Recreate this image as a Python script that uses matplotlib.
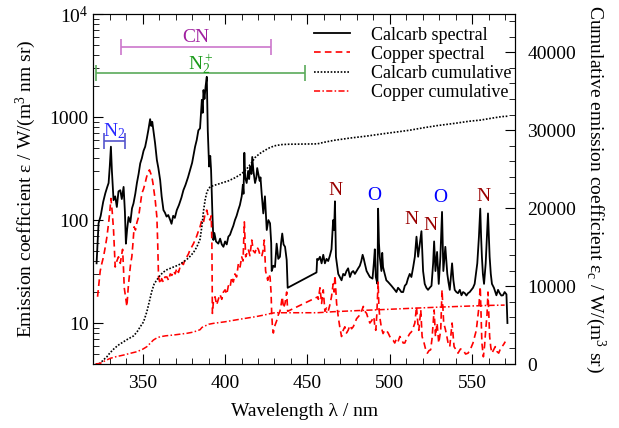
import numpy as np
import matplotlib
matplotlib.use('Agg')
import matplotlib.pyplot as plt
from matplotlib.ticker import MultipleLocator, FixedLocator, LogLocator, NullFormatter

plt.rcParams['font.family'] = ['Liberation Serif', 'DejaVu Serif']
plt.rcParams['mathtext.fontset'] = 'custom'
plt.rcParams['mathtext.rm'] = 'Liberation Serif'
plt.rcParams['mathtext.it'] = 'Liberation Serif:italic'

# Calcarb spectral emission coefficient (W/(m3 nm sr))
calcarb_wl = [322.0, 323.2, 324.5, 326.0, 327.3, 328.5, 329.3, 330.0, 330.7, 331.3, 332.3, 333.3, 334.3, 335.3,
              336.4, 337.3, 338.4, 339.2, 339.8, 340.5, 341.4, 342.5, 343.5, 344.4, 345.5, 346.5, 347.5, 348.5,
              349.5, 350.5, 351.5, 352.5, 353.5, 354.5, 355.2, 355.8, 356.5, 357.5, 358.6, 359.5, 360.6, 361.5,
              362.6, 363.5, 364.5, 365.5, 366.7, 367.5, 368.5, 369.5, 370.7, 372.0, 373.5, 374.7, 376.0, 377.5,
              378.8, 380.0, 381.8, 382.8, 383.8, 384.8, 385.9, 386.4, 386.9, 387.5, 388.2, 388.9, 389.5, 390.3,
              391.0, 391.5, 392.3, 392.9, 393.5, 394.5, 395.9, 397.0, 398.0, 399.0, 400.0, 401.0, 402.0, 403.0,
              404.0, 405.0, 406.0, 407.0, 408.0, 409.0, 410.1, 410.8, 411.2, 411.7, 412.2, 413.1, 414.0, 414.6,
              415.2, 416.0, 416.5, 417.2, 418.2, 419.0, 419.5, 420.2, 421.0, 421.5, 422.2, 423.2, 424.2, 425.3,
              426.3, 427.3, 428.0, 428.3, 429.3, 430.3, 431.3, 432.3, 433.3, 434.0, 434.7, 435.5, 436.4, 437.4,
              438.0, 455.5, 455.9, 456.6, 457.6, 458.6, 459.6, 460.6, 461.6, 462.6, 463.6, 464.6, 465.6, 466.2,
              466.7, 467.3, 468.0, 468.7, 469.7, 470.7, 471.7, 472.7, 473.7, 474.7, 475.8, 476.8, 477.8, 478.8,
              479.8, 480.8, 481.8, 482.7, 483.5, 484.2, 484.8, 485.9, 486.9, 487.9, 489.5, 490.3, 490.9, 491.5,
              492.5, 492.9, 493.4, 493.9, 494.9, 495.4, 495.9, 496.9, 497.9, 499.0, 500.0, 501.0, 502.0, 503.0,
              504.0, 505.0, 506.1, 507.0, 508.1, 509.1, 510.1, 511.0, 512.1, 513.1, 514.2, 515.2, 516.2, 517.2,
              518.2, 519.2, 520.2, 521.2, 522.2, 523.2, 524.2, 525.3, 526.3, 526.9, 527.7, 528.7, 529.7, 530.7,
              531.7, 532.5, 533.7, 534.9, 535.6, 536.4, 537.8, 538.6, 539.4, 540.4, 541.4, 542.5, 543.5, 544.5,
              545.5, 546.5, 547.5, 548.5, 549.5, 550.5, 551.5, 552.3, 553.1, 554.1, 554.9, 555.4, 555.9, 556.5,
              557.2, 558.2, 559.0, 559.6, 560.1, 560.6, 561.3, 562.0, 563.2, 564.7, 565.7, 566.7, 567.7, 568.7,
              569.7, 570.8, 571.4]
calcarb_eps = [38, 93, 110, 150, 182, 210, 229, 330, 516, 300, 156, 170, 134, 190,
               195, 160, 210, 120, 59, 80, 107, 95, 130, 145, 180, 230, 280, 355,
               400, 470, 516, 620, 760, 955, 820, 900, 744, 560, 383, 320, 244, 170,
               125, 118, 108, 112, 100, 92, 110, 105, 125, 140, 165, 195, 220, 260,
               307, 360, 516, 600, 744, 777, 1470, 1100, 1830, 1500, 2000, 2460, 744, 331,
               420, 307, 116, 64, 75, 62, 59, 66, 58, 55, 62, 58, 69, 72,
               80, 88, 100, 110, 125, 140, 170, 220, 180, 450, 260, 229, 300, 250,
               331, 280, 410, 300, 229, 260, 320, 280, 240, 260, 182, 116, 170, 80,
               100, 93, 60, 32, 36, 35, 59, 42, 44, 60, 74, 58, 55, 41,
               22, 31, 42, 41, 44, 38, 46, 38, 42, 40, 45, 52, 100, 80,
               152, 44, 36, 30, 28, 26, 30, 29, 32, 34, 28, 31, 32, 30,
               32, 34, 36, 40, 46, 42, 38, 32, 30, 28, 27, 38, 52, 28,
               24, 129, 60, 44, 32, 48, 35, 30, 26, 25, 24, 23, 22, 21,
               20, 22, 21, 20, 20, 23, 24, 27, 30, 28, 35, 44, 69, 44,
               59, 78, 32, 24, 22, 21, 22, 23, 38, 62, 32, 49, 24, 44,
               120, 32, 55, 30, 25, 21, 38, 26, 21, 20, 19.5, 21, 18.6, 20,
               19.5, 18.5, 19.5, 20, 21, 22, 24, 30, 38, 69, 129, 70, 44, 30,
               24, 38, 70, 116, 70, 44, 30, 24, 22, 18.6, 21, 19.5, 18.5, 18.6,
               20, 19, 10]

# Copper spectral emission coefficient (W/(m3 nm sr))
copper_wl = [322.6, 323.5, 324.2, 325.2, 326.2, 327.3, 328.3, 329.5, 330.2, 330.7, 331.5, 332.3, 333.3, 334.3,
             335.3, 336.4, 337.1, 337.8, 338.3, 338.8, 339.6, 340.4, 341.2, 342.0, 342.7, 343.4, 344.1, 344.8,
             345.6, 346.5, 347.5, 348.5, 349.5, 350.5, 351.5, 352.3, 353.2, 354.1, 355.0, 355.6, 356.2, 356.9,
             357.6, 358.1, 358.6, 359.1, 359.6, 360.6, 361.5, 362.5, 363.5, 364.7, 365.7, 366.7, 367.7, 368.7,
             369.7, 370.7, 371.7, 372.7, 373.7, 374.7, 375.8, 376.8, 377.8, 378.8, 379.8, 380.8, 381.8, 382.8,
             383.8, 384.8, 385.9, 386.9, 387.9, 388.9, 389.9, 390.9, 391.6, 392.0, 392.3, 392.9, 393.9, 394.9,
             395.9, 396.9, 398.0, 399.0, 400.0, 401.0, 402.0, 403.0, 404.0, 405.0, 406.0, 407.0, 408.1, 409.1,
             410.1, 410.9, 411.7, 412.5, 413.3, 414.1, 415.1, 416.2, 417.2, 418.2, 419.2, 420.2, 421.2, 422.2,
             423.0, 423.8, 424.6, 425.9, 426.6, 427.3, 427.9, 428.3, 428.8, 429.3, 430.3, 431.3, 432.3, 433.3,
             434.0, 434.7, 435.5, 436.4, 437.4, 438.0, 456.4, 456.6, 457.6, 458.6, 459.6, 460.6, 461.6, 462.6,
             463.6, 464.6, 465.6, 466.2, 466.7, 467.7, 468.7, 469.7, 470.7, 471.7, 472.7, 473.7, 474.7, 475.8,
             476.8, 477.8, 478.8, 479.8, 480.8, 481.8, 482.8, 483.9, 484.9, 485.9, 486.9, 487.9, 488.9, 490.3,
             491.0, 491.5, 492.1, 492.9, 493.4, 493.9, 494.9, 495.9, 496.9, 497.9, 499.0, 500.0, 501.0, 502.0,
             503.0, 504.0, 505.0, 506.1, 507.1, 508.1, 509.1, 510.1, 511.1, 512.1, 513.1, 514.2, 515.2, 516.2,
             517.0, 517.6, 518.8, 519.6, 520.8, 521.8, 522.8, 523.8, 524.8, 525.6, 526.3, 526.9, 527.7, 528.7,
             529.7, 530.9, 531.7, 532.7, 533.5, 534.3, 535.3, 536.4, 537.8, 539.0, 540.2, 541.4, 542.9, 544.4,
             546.0, 547.5, 549.0, 550.5, 551.5, 552.5, 553.9, 554.9, 555.4, 555.9, 556.8, 557.5, 558.2, 559.0,
             559.6, 560.1, 560.6, 561.3, 562.0, 563.0, 564.0, 565.0, 566.1, 567.1, 568.1, 569.1, 570.1]
copper_eps = [18, 25, 32, 38, 44, 55, 69, 100, 130, 162, 120, 80, 35, 40,
              44, 38, 45, 52, 35, 22, 18, 14.5, 22, 30, 38, 44, 60, 86,
              80, 95, 107, 140, 182, 200, 229, 260, 290, 307, 280, 260, 229, 190,
              156, 130, 107, 60, 28, 24, 27, 25, 28, 28, 26, 30, 29, 32,
              30, 34, 31, 35, 38, 37, 42, 44, 47, 52, 55, 59, 64, 70,
              78, 86, 100, 95, 115, 125, 105, 100, 110, 60, 12.4, 16, 18, 15,
              17, 19, 17, 20, 21, 19, 23, 22, 28, 25, 30, 28, 38, 35,
              44, 40, 96, 44, 48, 52, 45, 64, 50, 48, 55, 52, 46, 44,
              50, 64, 32, 26, 30, 28, 20, 12.4, 9, 8, 9.5, 10.5, 12, 13,
              15, 18, 14, 15.5, 20, 13, 18, 17, 22, 15.5, 21, 13, 14, 13,
              15, 18, 24, 20, 29, 15.5, 11.5, 9, 7.4, 8.5, 9.2, 8, 8.5, 9.5,
              8.8, 9.2, 10, 11, 11.5, 12, 13, 14.5, 13, 12.4, 11, 10, 10.5, 11.5,
              9, 8.5, 12, 25, 14, 11.5, 9, 7.9, 8.5, 8.5, 8, 7.4, 7, 6.8,
              6.4, 7, 6.6, 7.4, 7, 6.4, 6.4, 7, 7.4, 7.9, 8.2, 9, 10, 14.4,
              10, 8.5, 13.4, 7.4, 6.4, 5.5, 5.1, 5.4, 5.5, 7, 10, 13.4, 7.4, 10,
              6.4, 8.5, 21, 10, 9, 7.9, 6.5, 5.9, 10, 5.9, 5.5, 5.1, 5.6, 5.5,
              5.0, 5.1, 5.6, 6.4, 7.4, 8.5, 13.4, 22.5, 12, 6.4, 4.7, 6, 8.5, 12,
              20, 12, 7.4, 5.8, 5.1, 5.5, 5.9, 5.3, 5.1, 5.6, 5.9, 6.2, 6.6]

# Cumulative emission coefficients (W/(m3 sr))
calcarb_cum_wl = [321.5, 324.2, 326.0, 328.3, 330.0, 332.3, 335.0, 338.4, 341.0, 344.4, 346.5, 348.5, 350.5,
                  352.5, 354.0, 355.6, 357.0, 358.6, 360.6, 362.6, 364.7, 368.7, 371.7, 374.7, 377.8, 380.8,
                  382.8, 384.8, 386.0, 387.0, 388.0, 389.0, 390.0, 391.0, 393.0, 396.0, 402.0, 406.0, 410.0,
                  413.0, 416.0, 418.2, 421.0, 424.0, 427.0, 430.0, 434.0, 438.0, 456.0, 460.0, 466.0, 476.0,
                  486.0, 496.0, 505.0, 512.0, 520.0, 529.0, 540.0, 548.0, 555.0, 562.0, 568.0, 571.5]
calcarb_cum = [0, 90, 500, 940, 1400, 1900, 2400, 2860, 3200, 3600, 4100, 4780, 5400,
               6700, 8000, 9400, 10300, 10800, 11400, 11800, 12100, 12450, 12700, 13100, 13600, 14300,
               15000, 16000, 17800, 19800, 21200, 22100, 22500, 22750, 22900, 23100, 23500, 23900, 24400,
               25000, 25800, 26500, 27000, 27400, 27750, 28000, 28150, 28200, 28250, 28450, 28700, 29000,
               29250, 29550, 29800, 30000, 30300, 30600, 30900, 31150, 31300, 31550, 31750, 31800]
copper_cum_wl = [321.5, 324.2, 327.0, 330.3, 334.0, 338.4, 342.0, 346.5, 350.0, 352.5, 354.5, 356.5, 358.6,
                 360.6, 364.0, 368.7, 372.7, 376.8, 380.8, 384.8, 386.0, 390.0, 393.0, 400.0, 406.0, 412.0,
                 418.2, 424.0, 428.0, 430.3, 438.4, 456.0, 465.6, 480.0, 495.0, 512.1, 530.0, 550.0, 560.0,
                 569.7]
copper_cum = [0, 90, 400, 730, 950, 1150, 1350, 1580, 1900, 2220, 2650, 3080, 3350,
              3500, 3620, 3720, 3830, 3940, 4100, 4400, 4700, 5100, 5220, 5420, 5640, 5850,
              6060, 6300, 6500, 6580, 6580, 6580, 6710, 6850, 6980, 7140, 7300, 7450, 7520,
              7560]

# band ranges (nm) and peak labels
band_names = ['CN', r'$\mathrm{N}_2^+$', r'$\mathrm{N}_2$']
band_start = [336.7, 321.6, 326.5]
band_end = [428.0, 448.5, 339.2]
band_level = [4800, 2670, 585]
peak_labels = ['N', 'O', 'N', 'N', 'O', 'N']
peak_wl = [467.2, 490.3, 513.2, 524.7, 530.7, 556.7]
peak_eps = [195, 175, 102, 89, 164, 168]

band_text_col = ['#a020a0', '#1a9a1a', '#2a2aff']
band_bar_col = ['#cc77cc', '#5aaa5a', '#5555cc']
band_text_shift = [1.02, 0.93, 1.0]
peak_colors = {'N': '#990000', 'O': '#0000ff'}

fig = plt.figure(figsize=(6.19, 4.28), dpi=100)
ax = fig.add_axes([0.1507, 0.1495, 0.832 - 0.1507, 0.967 - 0.1495])
ax2 = ax.twinx()

l1, = ax.plot(calcarb_wl, calcarb_eps, color='black', lw=1.3, label='Calcarb spectral')
l2, = ax.plot(copper_wl, copper_eps, color='#ff0000', lw=1.2, linestyle=(0, (4, 2.5)), label='Copper spectral')
l3, = ax2.plot(calcarb_cum_wl, calcarb_cum, color='black', lw=1.2, linestyle=(0, (1, 1)), label='Calcarb cumulative')
l4, = ax2.plot(copper_cum_wl, copper_cum, color='#ff0000', lw=1.1, linestyle=(0, (4, 1.5, 1, 1.5)),
               label='Copper cumulative')

ax.set_yscale('log')
ax.set_xlim(320, 576)
ax.set_ylim(4, 1e4)
ax2.set_ylim(0, 44900)

for i in range(len(band_names)):
    mid = (band_start[i] + band_end[i]) / 2
    half = (band_end[i] - band_start[i]) / 2
    ax.errorbar(mid, band_level[i], xerr=half, fmt='none', ecolor=band_bar_col[i], elinewidth=1.2,
                capsize=6, capthick=1.2)
    ax.text(mid, band_level[i] * band_text_shift[i], band_names[i], color=band_text_col[i], fontsize=14,
            ha='center', va='bottom')

for lab, wl, ev in zip(peak_labels, peak_wl, peak_eps):
    ax.text(wl, ev, lab, color=peak_colors[lab], fontsize=14, ha='center', va='center')

ax.xaxis.set_major_locator(MultipleLocator(50))
ax.xaxis.set_minor_locator(MultipleLocator(10))
ax.yaxis.set_major_locator(FixedLocator([10, 100, 1000, 10000]))
ax.set_yticklabels(['10', '100', '1000', r'$10^4$'])
ax.yaxis.set_minor_locator(LogLocator(base=10, subs=np.arange(2, 10)))
ax.yaxis.set_minor_formatter(NullFormatter())
ax2.yaxis.set_major_locator(MultipleLocator(10000))
ax2.yaxis.set_minor_locator(MultipleLocator(2000))

ax.tick_params(which='both', direction='in', top=True, labelsize=14)
ax.tick_params(axis='x', which='major', pad=8)
ax.tick_params(which='major', length=7)
ax.tick_params(which='minor', length=4)
ax2.tick_params(which='both', direction='in', labelsize=14)
ax2.tick_params(which='major', length=7, pad=9)
ax2.tick_params(which='minor', length=4)

ax.set_xlabel('Wavelength λ / nm', fontsize=14, labelpad=8)
ax.set_ylabel('Emission coefficient ε / W/(m$^3$ nm sr)', fontsize=14, labelpad=8)
ax2.set_ylabel('Cumulative emission coefficient ε$_\\mathrm{c}$ / W/(m$^3$ sr)', fontsize=14,
               rotation=270, labelpad=22)

ax.legend(handles=[l1, l2, l3, l4], loc='upper right', bbox_to_anchor=(1.012, 0.99), frameon=False,
          fontsize=13, handlelength=2.0, handletextpad=1.15, labelspacing=0.12, borderaxespad=0.1)

fig.savefig('out.png', dpi=100)
